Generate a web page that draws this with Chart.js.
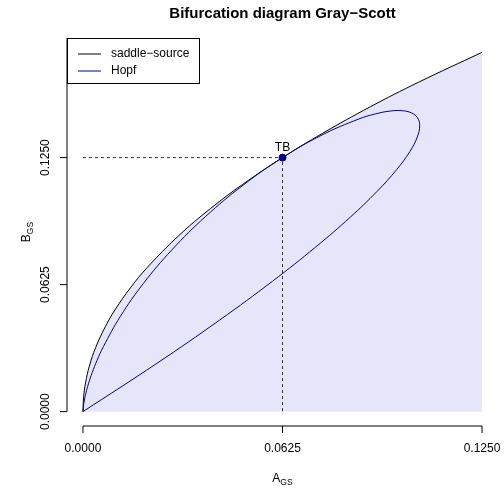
<!DOCTYPE html>
<html>
<head>
<meta charset="utf-8">
<script src="https://cdn.jsdelivr.net/npm/chart.js@4"></script>
<style>
  body { margin: 0; background: #fff; }
  canvas { display: block; }
</style>
</head>
<body>
<canvas id="bifChart" width="504" height="493"></canvas>
<script>
// values
const saddleA = [0, 0.0002, 0.0008, 0.002, 0.004, 0.007, 0.01, 0.015, 0.02, 0.03, 0.04, 0.05, 0.0625, 0.075, 0.09, 0.105, 0.125];
const saddleB = [0, 0.0071, 0.0141, 0.0224, 0.0316, 0.0418, 0.05, 0.0612, 0.0707, 0.0866, 0.1, 0.1118, 0.125, 0.1369, 0.15, 0.162, 0.1768];

const hopfA = [0, 0.00002, 0.00012, 0.00039, 0.0009, 0.00171, 0.00287, 0.00442, 0.0064, 0.01172, 0.0189, 0.02787, 0.0384, 0.05012,
  0.0625, 0.07487, 0.0864, 0.09155, 0.09612, 0.09995, 0.1029, 0.1048, 0.10547, 0.10473, 0.1024, 0.09827, 0.09212, 0.08374,
  0.0729, 0.05936, 0.04287, 0.02317, 0];
const hopfB = [0, 0.00061, 0.00238, 0.0052, 0.009, 0.01367, 0.01913, 0.02527, 0.032, 0.04688, 0.063, 0.07963, 0.096, 0.11138,
  0.125, 0.13613, 0.144, 0.14648, 0.14788, 0.14808, 0.147, 0.14455, 0.14063, 0.13514, 0.128, 0.11911, 0.10838, 0.0957,
  0.081, 0.06417, 0.04513, 0.02377, 0];

const tbPoint = { x: 0.0625, y: 0.125 };
const xTicks = [0, 0.0625, 0.125];
const yTicks = [0, 0.0625, 0.125];

const font = '"Liberation Sans", Arial, Helvetica, sans-serif';
const hopfColor = '#00008B';

const zip = (xs, ys) => xs.map((v, i) => ({ x: v, y: ys[i] }));

const decorations = {
  id: 'decorations',
  afterDatasetsDraw(chart) {
    const { ctx, scales: { x, y } } = chart;
    ctx.save();
    ctx.fillStyle = '#000';
    ctx.font = '12px ' + font;
    ctx.textAlign = 'center';
    ctx.textBaseline = 'alphabetic';
    ctx.fillText('TB', x.getPixelForValue(tbPoint.x), y.getPixelForValue(tbPoint.y) - 7);
    ctx.restore();
  },
  afterDraw(chart) {
    const { ctx, chartArea: area, scales: { x, y } } = chart;
    ctx.save();
    ctx.strokeStyle = '#000';
    ctx.fillStyle = '#000';
    ctx.lineWidth = 1;

    // x axis (detached, R style)
    const axY = area.bottom;
    ctx.beginPath();
    ctx.moveTo(x.getPixelForValue(xTicks[0]), axY);
    ctx.lineTo(x.getPixelForValue(xTicks[xTicks.length - 1]), axY);
    xTicks.forEach(v => {
      const px = x.getPixelForValue(v);
      ctx.moveTo(px, axY);
      ctx.lineTo(px, axY + 7);
    });
    ctx.stroke();

    // y axis
    const axX = area.left;
    ctx.beginPath();
    ctx.moveTo(axX, y.getPixelForValue(yTicks[0]));
    ctx.lineTo(axX, area.top);
    yTicks.forEach(v => {
      const py = y.getPixelForValue(v);
      ctx.moveTo(axX, py);
      ctx.lineTo(axX - 7, py);
    });
    ctx.stroke();

    ctx.font = '12px ' + font;
    ctx.textAlign = 'center';
    ctx.textBaseline = 'middle';
    xTicks.forEach(v => ctx.fillText(v.toFixed(4), x.getPixelForValue(v), 449));
    yTicks.forEach(v => {
      ctx.save();
      ctx.translate(46, y.getPixelForValue(v));
      ctx.rotate(-Math.PI / 2);
      ctx.fillText(v.toFixed(4), 0, 0);
      ctx.restore();
    });

    // axis titles with subscripts
    const subLabel = (main, sub, cx, cy, rot) => {
      ctx.save();
      ctx.translate(cx, cy);
      if (rot) ctx.rotate(-Math.PI / 2);
      ctx.textAlign = 'left';
      ctx.textBaseline = 'alphabetic';
      ctx.font = '12px ' + font;
      const w1 = ctx.measureText(main).width;
      ctx.font = '8.5px ' + font;
      const w2 = ctx.measureText(sub).width;
      const start = -(w1 + w2) / 2;
      ctx.font = '12px ' + font;
      ctx.fillText(main, start, 0);
      ctx.font = '8.5px ' + font;
      ctx.fillText(sub, start + w1, 3);
      ctx.restore();
    };
    subLabel('A', 'GS', (area.left + area.right) / 2, 482, false);
    subLabel('B', 'GS', 30, (area.top + area.bottom) / 2, true);

    // title
    ctx.font = 'bold 15px ' + font;
    ctx.textAlign = 'center';
    ctx.textBaseline = 'middle';
    ctx.fillText('Bifurcation diagram Gray\u2212Scott', (area.left + area.right) / 2, 14);

    // legend box
    ctx.fillStyle = '#fff';
    ctx.fillRect(67.5, 38.5, 132, 45);
    ctx.strokeRect(67.5, 38.5, 132, 45);
    const rows = [['saddle\u2212source', '#000', 54], ['Hopf', hopfColor, 71]];
    rows.forEach(([label, color, ry]) => {
      ctx.strokeStyle = color;
      ctx.beginPath();
      ctx.moveTo(78, ry);
      ctx.lineTo(101, ry);
      ctx.stroke();
      ctx.fillStyle = '#000';
      ctx.font = '12px ' + font;
      ctx.textAlign = 'left';
      ctx.textBaseline = 'middle';
      ctx.fillText(label, 111, ry);
    });
    ctx.restore();
  }
};

new Chart(document.getElementById('bifChart').getContext('2d'), {
  type: 'scatter',
  data: {
    datasets: [
      {
        label: 'TB',
        data: [tbPoint],
        pointRadius: 3.5,
        pointBackgroundColor: hopfColor,
        pointBorderColor: hopfColor,
        showLine: false
      },
      {
        label: 'Hopf',
        data: zip(hopfA, hopfB),
        borderColor: hopfColor,
        borderWidth: 1,
        pointRadius: 0,
        showLine: true,
        tension: 0.4,
        fill: false
      },
      {
        label: 'saddle-source',
        data: zip(saddleA, saddleB),
        borderColor: '#000',
        borderWidth: 1,
        backgroundColor: '#E6E6FA',
        pointRadius: 0,
        showLine: true,
        tension: 0.4,
        fill: 'origin'
      },
      {
        label: 'guides',
        data: [{ x: 0, y: tbPoint.y }, tbPoint, { x: tbPoint.x, y: 0 }],
        borderColor: '#333',
        borderWidth: 1,
        borderDash: [3, 3],
        pointRadius: 0,
        showLine: true,
        fill: false
      }
    ]
  },
  options: {
    responsive: false,
    animation: false,
    devicePixelRatio: 1,
    layout: { padding: { left: 67, right: 6, top: 38, bottom: 67 } },
    plugins: {
      legend: { display: false },
      tooltip: { enabled: false },
      filler: { drawTime: 'beforeDatasetsDraw' }
    },
    scales: {
      x: { type: 'linear', display: false, min: -0.005, max: 0.13 },
      y: { type: 'linear', display: false, min: -0.00707, max: 0.18385 }
    }
  },
  plugins: [decorations]
});
</script>
</body>
</html>
